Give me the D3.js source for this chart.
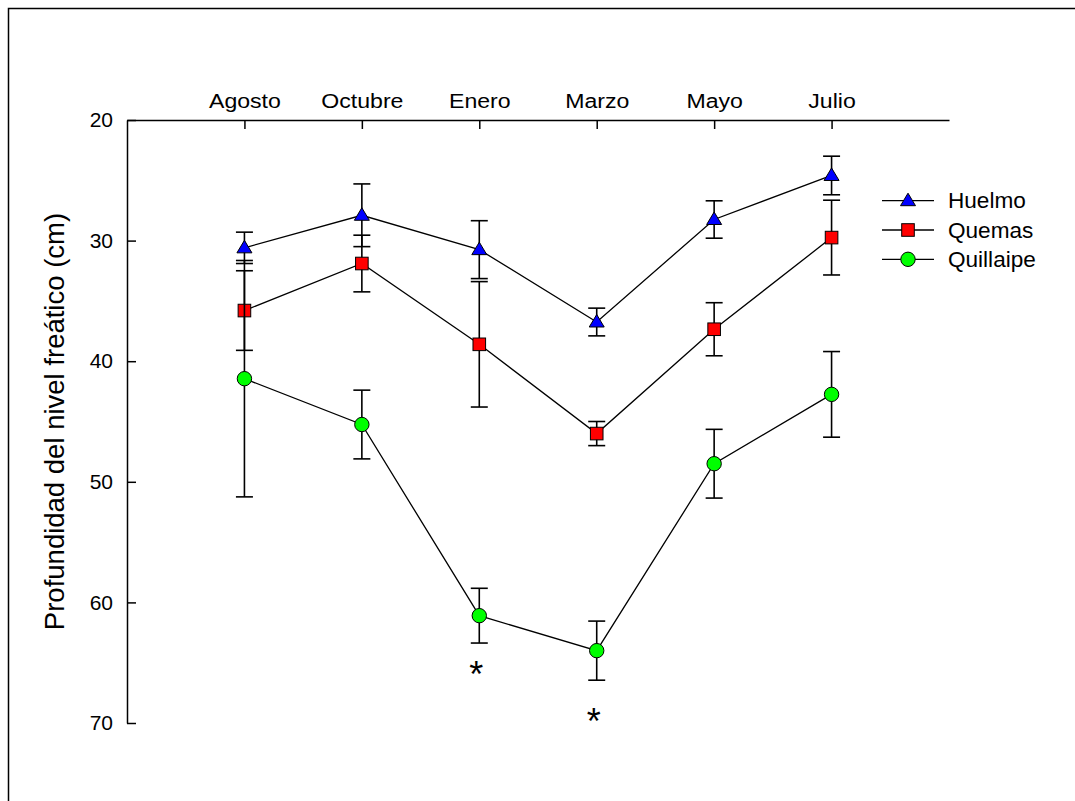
<!DOCTYPE html>
<html>
<head>
<meta charset="utf-8">
<script src="https://cdn.jsdelivr.net/npm/d3@7"></script>
<style>
  html, body { margin: 0; padding: 0; background: #fff; }
  svg { display: block; }
  text { font-family: "Liberation Sans", Arial, sans-serif; fill: #000; }
</style>
</head>
<body>
<svg id="chart" width="1075" height="801"></svg>
<script>
const categories = ["Agosto", "Octubre", "Enero", "Marzo", "Mayo", "Julio"];
const seriesNames = ["Huelmo", "Quemas", "Quillaipe"];
const huelmo = [30.6, 27.9, 30.75, 36.75, 28.25, 24.6];
const huelmoErr = [1.3, 2.6, 2.4, 1.15, 1.55, 1.6];
const quemas = [35.8, 31.9, 38.6, 46.0, 37.35, 29.75];
const quemasErr = [3.3, 2.35, 5.2, 1.0, 2.2, 3.1];
const quillaipe = [41.45, 45.25, 61.1, 64.0, 48.5, 42.75];
const quillaipeErr = [9.8, 2.85, 2.27, 2.45, 2.85, 3.55];
const yTicks = [20, 30, 40, 50, 60, 70];
const sigCategories = ["Enero", "Marzo"];
const sigValues = [65.6, 69.5];
const yLabel = "Profundidad del nivel freático (cm)";

const colors = ["#0000ff", "#ff0000", "#00ff00"];
const shapes = ["triangle", "square", "circle"];
const allValues = [huelmo, quemas, quillaipe];
const allErrs = [huelmoErr, quemasErr, quillaipeErr];

const svg = d3.select("#chart");

// outer frame
svg.append("path")
  .attr("d", "M8.5,801 V8.5 H1075")
  .attr("fill", "none").attr("stroke", "#000").attr("stroke-width", 1.5);

const x = d3.scaleLinear().domain([0, categories.length + 1]).range([127, 949]);
const y = d3.scaleLinear().domain([20, 70]).range([120, 723]);
const xc = i => x(i + 1);

// axes
const xAxis = d3.axisTop(x)
  .tickValues(categories.map((c, i) => i + 1))
  .tickFormat(d => categories[d - 1])
  .tickSizeInner(-9).tickSizeOuter(0).tickPadding(12);
const gx = svg.append("g").attr("transform", `translate(0,${y(20)})`).call(xAxis);

const yAxis = d3.axisLeft(y)
  .tickValues(yTicks)
  .tickSizeInner(-9).tickSizeOuter(0).tickPadding(14);
const gy = svg.append("g").attr("transform", `translate(${x(0)},0)`).call(yAxis);

[gx, gy].forEach(g => {
  g.selectAll("path, line").attr("stroke", "#000").attr("stroke-width", 1.5);
  g.selectAll("text").attr("font-family", "'Liberation Sans', Arial, sans-serif").attr("fill", "#000");
});
gy.selectAll("text").attr("font-size", 21);
gx.selectAll("text").attr("font-size", 21).attr("transform", "scale(1.1,1)");

// y label
svg.append("text")
  .attr("transform", `translate(64,${(y(20) + y(70)) / 2}) rotate(-90)`)
  .attr("text-anchor", "middle")
  .attr("font-size", 27.5)
  .text(yLabel);

function drawMarker(g, shape, color, cx, cy) {
  if (shape === "triangle") {
    g.append("path")
      .attr("d", `M${cx},${cy - 7.5} L${cx + 7.5},${cy + 5} L${cx - 7.5},${cy + 5} Z`)
      .attr("fill", color).attr("stroke", "#000").attr("stroke-width", 1);
  } else if (shape === "square") {
    g.append("rect")
      .attr("x", cx - 6.3).attr("y", cy - 6.3).attr("width", 12.6).attr("height", 12.6)
      .attr("fill", color).attr("stroke", "#000").attr("stroke-width", 1);
  } else {
    g.append("circle")
      .attr("cx", cx).attr("cy", cy).attr("r", 7.2)
      .attr("fill", color).attr("stroke", "#000").attr("stroke-width", 1);
  }
}

const line = d3.line().x((d, i) => xc(i)).y(d => y(d));

allValues.forEach((vals, s) => {
  const g = svg.append("g");
  const errs = allErrs[s];
  // error bars
  vals.forEach((v, i) => {
    const cx = xc(i);
    const top = y(v - errs[i]), bot = y(v + errs[i]);
    g.append("line").attr("x1", cx).attr("x2", cx).attr("y1", top).attr("y2", bot)
      .attr("stroke", "#000").attr("stroke-width", 1.6);
    [top, bot].forEach(yy => {
      g.append("line").attr("x1", cx - 8.5).attr("x2", cx + 8.5).attr("y1", yy).attr("y2", yy)
        .attr("stroke", "#000").attr("stroke-width", 1.6);
    });
  });
  // connecting line
  g.append("path").datum(vals).attr("d", line)
    .attr("fill", "none").attr("stroke", "#000").attr("stroke-width", 1.3);
  // markers
  vals.forEach((v, i) => drawMarker(g, shapes[s], colors[s], xc(i), y(v)));
});

// significance asterisks
sigCategories.forEach((c, k) => {
  const i = categories.indexOf(c);
  svg.append("text")
    .attr("x", xc(i) - 3)
    .attr("y", y(sigValues[k]) + 17)
    .attr("text-anchor", "middle")
    .attr("font-family", "'Liberation Serif', 'Times New Roman', serif")
    .attr("font-size", 36)
    .attr("fill", "#222")
    .text("*");
});

// legend
const legend = svg.append("g");
const legendRows = [200.7, 230, 259.3];
seriesNames.forEach((name, s) => {
  const ly = legendRows[s];
  legend.append("line").attr("x1", 882).attr("x2", 934).attr("y1", ly).attr("y2", ly)
    .attr("stroke", "#000").attr("stroke-width", 1.3);
  drawMarker(legend, shapes[s], colors[s], 908, ly);
  legend.append("text").attr("x", 948).attr("y", ly).attr("dy", "0.35em")
    .attr("font-size", 21.5).attr("transform", `translate(948,0) scale(1.05,1) translate(-948,0)`)
    .text(name);
});
</script>
</body>
</html>
